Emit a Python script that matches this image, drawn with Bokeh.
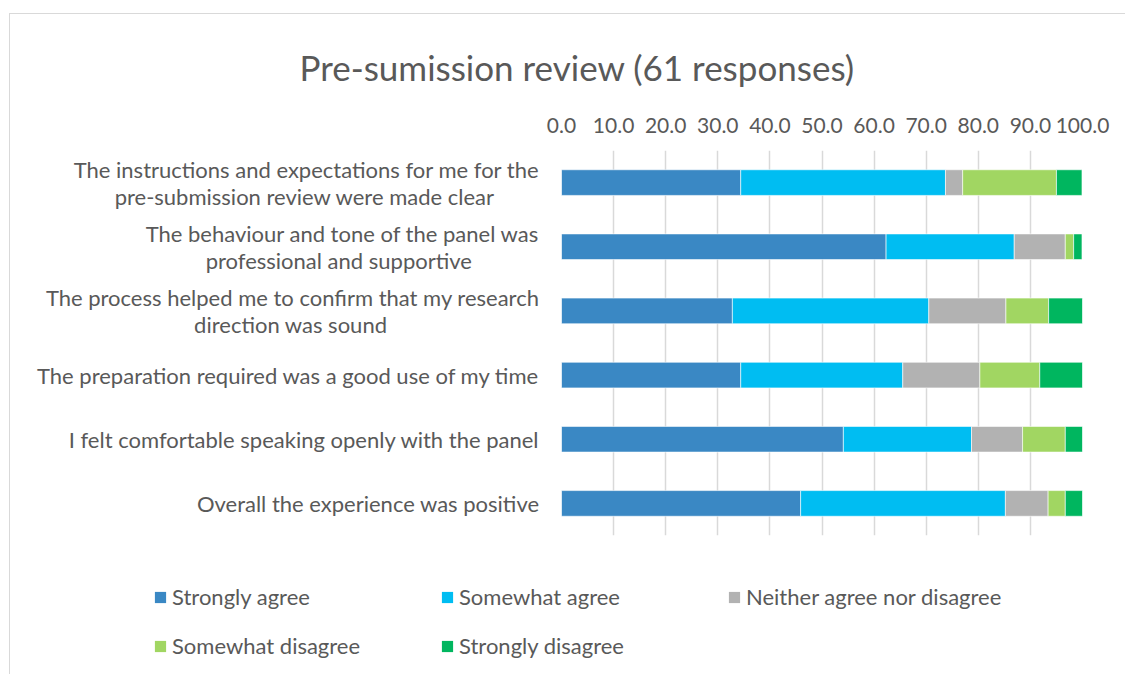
from bokeh.plotting import figure
from bokeh.models import (FactorRange, Legend, LegendItem, NumeralTickFormatter,
                          FixedTicker, Title)
from bokeh.embed import file_html
from bokeh.resources import INLINE

questions = [
    "The instructions and expectations for me for the\npre-submission review were made clear",
    "The behaviour and tone of the panel was\nprofessional and supportive",
    "The process helped me to confirm that my research\ndirection was sound",
    "The preparation required was a good use of my time",
    "I felt comfortable speaking openly with the panel",
    "Overall the experience was positive",
]
series = ["Strongly agree", "Somewhat agree", "Neither agree nor disagree",
          "Somewhat disagree", "Strongly disagree"]
colors = ["#3a88c4", "#00bdf2", "#b2b2b2", "#a1d662", "#00b65f"]

strongly_agree = [34.4, 62.3, 32.8, 34.4, 54.1, 45.9]
somewhat_agree = [39.3, 24.6, 37.7, 31.1, 24.6, 39.3]
neither = [3.3, 9.8, 14.8, 14.8, 9.8, 8.2]
somewhat_disagree = [18.0, 1.6, 8.2, 11.5, 8.2, 3.3]
strongly_disagree = [4.9, 1.6, 6.6, 8.2, 3.3, 3.3]
x_ticks = [0, 10, 20, 30, 40, 50, 60, 70, 80, 90, 100]

# centre the second line of two-line labels under the first (trailing no-break spaces)
pad = {0: 8, 1: 12, 2: 27}
labels = []
for i, q in enumerate(questions):
    if i in pad:
        a, b = q.split("\n")
        labels.append(a + "\n" + b + "\u00a0" * pad[i] + "\u200b")
    else:
        labels.append(q)

data = dict(q=labels)
for s, vals in zip(series, [strongly_agree, somewhat_agree, neither,
                            somewhat_disagree, strongly_disagree]):
    data[s] = vals

FONT = "Lato"
GREY = "#595959"

p = figure(width=1116, height=531, output_backend="svg", toolbar_location=None,
           y_range=FactorRange(*labels[::-1], range_padding=0),
           x_range=(0, 100), x_axis_location="above",
           min_border_left=551, min_border_right=44, min_border_top=136,
           min_border_bottom=10)
p.styles = {"border-left": "1px solid #d9d9d9", "border-top": "1px solid #d9d9d9",
            "margin-left": "9px", "margin-top": "13px"}

renderers = p.hbar_stack(series, y="q", height=0.4, source=data, color=colors,
                         line_color="white", line_width=0.6)

title = Title(text="Pre-sumission review (61 responses)", align="left",
              offset=-262, text_font=FONT, text_font_size="35px",
              text_font_style="normal", text_color=GREY, standoff=49,
              vertical_align="top")
p.add_layout(title, "above")

p.xaxis.ticker = FixedTicker(ticks=x_ticks)
p.xaxis.formatter = NumeralTickFormatter(format="0.0")
p.xaxis.major_label_text_font = FONT
p.xaxis.major_label_text_font_size = "21px"
p.xaxis.major_label_text_color = GREY
p.xaxis.axis_line_color = None
p.xaxis.major_tick_line_color = None
p.xaxis.minor_tick_line_color = None
p.xaxis.major_label_standoff = 12

p.yaxis.major_label_text_font = FONT
p.yaxis.major_label_text_font_size = "22px"
p.yaxis.major_label_text_color = GREY
p.yaxis.major_label_text_line_height = 1.0
p.yaxis.axis_line_color = None
p.yaxis.major_tick_line_color = None
p.yaxis.minor_tick_line_color = None
p.yaxis.major_label_standoff = 16

p.xgrid.grid_line_color = "#d9d9d9"
p.xgrid.grid_line_width = 1.5
p.ygrid.grid_line_color = None
p.outline_line_color = None

# legend panel: same series, renderers hidden, only the legend is drawn
pl = figure(width=1116, height=130, output_backend="svg", toolbar_location=None,
            y_range=FactorRange(*labels[::-1]), x_range=(0, 100),
            x_axis_location=None, y_axis_location=None,
            min_border=0)
pl.styles = {"border-left": "1px solid #d9d9d9", "margin-left": "9px"}
pl.outline_line_color = None
pl.xgrid.grid_line_color = None
pl.ygrid.grid_line_color = None
leg_renderers = pl.hbar_stack(series, y="q", height=0.4, source=data, color=colors,
                              line_color=None)
for r in leg_renderers:
    r.visible = False

# legend fills column by column: order so that rows read like the reference
order = [0, 3, 1, 4, 2]
items = [LegendItem(label=series[i], renderers=[leg_renderers[i]]) for i in order]
legend = Legend(items=items, ncols=3, location=(143, 4),
                glyph_width=14, glyph_height=14, label_standoff=5,
                label_width=268, spacing=0, padding=0, margin=0,
                label_text_font=FONT, label_text_font_size="22px",
                label_text_color=GREY, border_line_color=None,
                background_fill_alpha=0, label_height=49,
                inactive_fill_alpha=0)
pl.add_layout(legend, "center")

open("out.html", "w").write(file_html([p, pl], INLINE))
